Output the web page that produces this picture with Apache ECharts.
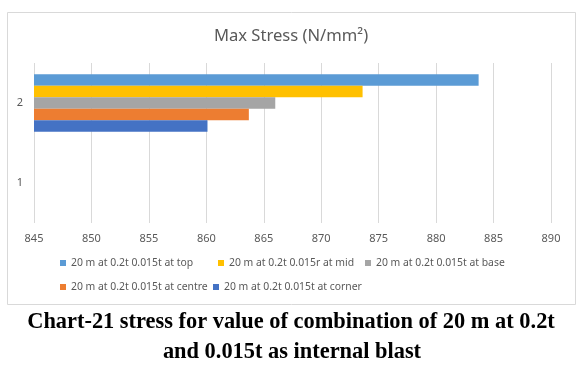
<!DOCTYPE html>
<html>
<head>
<meta charset="utf-8">
<script src="https://cdn.jsdelivr.net/npm/echarts@6/dist/echarts.min.js"></script>
<style>
html,body{margin:0;padding:0;background:#fff;}
#chart{width:582px;height:372px;}
</style>
</head>
<body>
<div id="chart"></div>
<script>
var categories = ['1', '2'];
var seriesNames = [
  '20 m at 0.2t 0.015t at top',
  '20 m at 0.2t 0.015r at mid',
  '20 m at 0.2t 0.015t at base',
  '20 m at 0.2t 0.015t at centre',
  '20 m at 0.2t 0.015t at corner'
];
var topValues    = [null, 883.7];
var midValues    = [null, 873.6];
var baseValues   = [null, 866.0];
var centreValues = [null, 863.7];
var cornerValues = [null, 860.1];
var xTicks = [845, 850, 855, 860, 865, 870, 875, 880, 885, 890];
var colors = ['#5B9BD5', '#FFC000', '#A5A5A5', '#ED7D31', '#4472C4'];
var allValues = [topValues, midValues, baseValues, centreValues, cornerValues];

var legendFont = "'Noto Sans', sans-serif";
var legendPos = [
  {left: 60, top: 258},
  {left: 218, top: 258},
  {left: 365, top: 258},
  {left: 60, top: 282},
  {left: 213, top: 282}
];

var chart = echarts.init(document.getElementById('chart'));
var option = {
  animation: false,
  backgroundColor: '#fff',
  color: colors,
  title: {
    text: 'Max Stress (N/mm²)',
    left: 'center',
    top: 23,
    textStyle: {color: '#595959', fontSize: 16.6, fontWeight: 'normal', fontFamily: "'Noto Sans', sans-serif"}
  },
  legend: seriesNames.map(function (n, i) {
    return {
      data: [n],
      left: legendPos[i].left,
      top: legendPos[i].top,
      padding: 0,
      itemWidth: 6,
      itemHeight: 6,
      icon: 'rect',
      textStyle: {color: '#595959', fontSize: 10.4, fontFamily: legendFont}
    };
  }),
  grid: {left: 34, right: 31, top: 63, height: 160, containLabel: false},
  xAxis: {
    type: 'value',
    min: xTicks[0],
    max: xTicks[xTicks.length - 1],
    interval: 5,
    axisLine: {show: false},
    axisTick: {show: false},
    splitLine: {lineStyle: {color: '#d9d9d9', width: 1}},
    axisLabel: {color: '#595959', fontSize: 11, margin: 10, fontFamily: legendFont}
  },
  yAxis: {
    type: 'category',
    data: categories,
    axisLine: {show: false},
    axisTick: {show: false},
    splitLine: {show: false},
    axisLabel: {color: '#595959', fontSize: 11, margin: 11, fontFamily: legendFont}
  },
  series: seriesNames.map(function (n, i) {
    return {
      name: n,
      type: 'bar',
      data: allValues[i],
      barGap: '0%',
      barCategoryGap: '28%',
      itemStyle: {color: colors[i]}
    };
  }),
  graphic: [
    {
      type: 'rect',
      shape: {x: 7.5, y: 12.5, width: 568, height: 292},
      style: {fill: 'none', stroke: '#d9d9d9', lineWidth: 1},
      silent: true
    },
    {
      type: 'text',
      x: 291, y: 333,
      style: {
        text: 'Chart-21 stress for value of combination of 20 m at 0.2t',
        fill: '#000',
        font: "bold 22.4px 'Liberation Serif', serif",
        textAlign: 'center',
        textVerticalAlign: 'bottom'
      }
    },
    {
      type: 'text',
      x: 292, y: 363,
      style: {
        text: 'and 0.015t as internal blast',
        fill: '#000',
        font: "bold 22.4px 'Liberation Serif', serif",
        textAlign: 'center',
        textVerticalAlign: 'bottom'
      }
    }
  ]
};
chart.setOption(option);
</script>
</body>
</html>
